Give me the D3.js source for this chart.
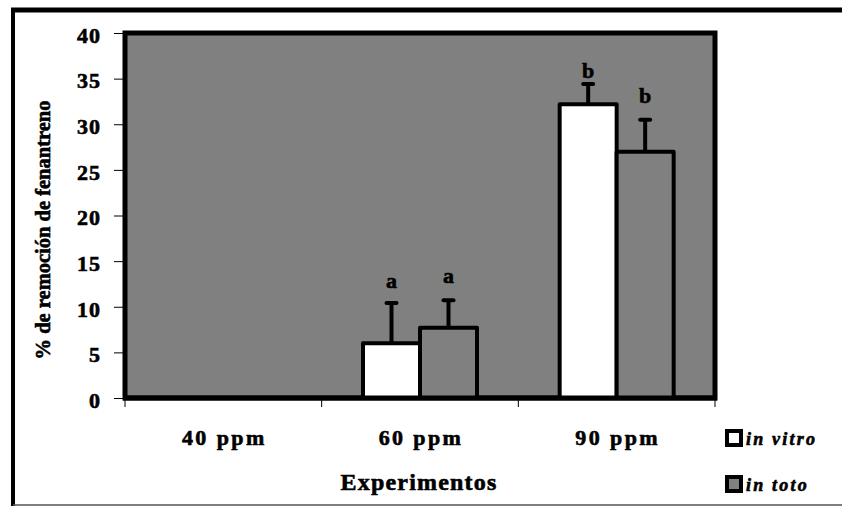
<!DOCTYPE html>
<html><head><meta charset="utf-8">
<script src="https://cdn.jsdelivr.net/npm/d3@7"></script>
<style>
html,body{margin:0;padding:0;background:#fff;}
svg text{stroke:#000;stroke-width:0.6px;}
</style></head>
<body>
<svg id="c" width="842" height="506"></svg>
<script>
const categories = ["40 ppm", "60 ppm", "90 ppm"];
const seriesNames = ["in vitro", "in toto"];
const inVitro = [0, 6.0, 32.2];
const inToto = [0, 7.7, 27.0];
const inVitroErr = [0, 4.4, 2.2];
const inTotoErr = [0, 3.0, 3.5];
const inVitroLetters = ["", "a", "b"];
const inTotoLetters = ["", "a", "b"];
const inVitroLetterAt = [0, 12.05, 35.07];
const inTotoLetterAt = [0, 12.6, 32.3];
const yTicks = [0, 5, 10, 15, 20, 25, 30, 35, 40];
const colors = ["#ffffff", "#808080"];

const FONT = "Liberation Serif";
const svg = d3.select("#c");
const plot = {left: 125, right: 715, top: 33, bottom: 398};

// outer frame
svg.append("line").attr("x1", 11).attr("x2", 842).attr("y1", 10).attr("y2", 10).attr("stroke", "#000").attr("stroke-width", 5);
svg.append("line").attr("x1", 13).attr("x2", 13).attr("y1", 8).attr("y2", 506).attr("stroke", "#000").attr("stroke-width", 4);
svg.append("line").attr("x1", 13).attr("x2", 842).attr("y1", 505).attr("y2", 505).attr("stroke", "#555").attr("stroke-width", 1.5);

const x = d3.scaleBand().domain(categories).range([plot.left, plot.right]).paddingInner(0).paddingOuter(0);
const y = d3.scaleLinear().domain([0, 40]).range([plot.bottom, plot.top]);
const xs = d3.scaleBand().domain(seriesNames).range([0, 114]);

// background
svg.append("rect").attr("x", plot.left).attr("y", plot.top).attr("width", plot.right - plot.left).attr("height", plot.bottom - plot.top)
  .attr("fill", "#808080").attr("stroke", "#000").attr("stroke-width", 5);

// y axis
const yAxis = d3.axisLeft(y).tickValues(yTicks).tickSize(9).tickPadding(13);
const gy = svg.append("g").attr("transform", `translate(${plot.left - 2},0)`).call(yAxis);
gy.select(".domain").remove();
gy.attr("font-family", FONT).attr("font-size", 22);
gy.selectAll(".tick line").attr("stroke", "#000").attr("stroke-width", 1);
gy.selectAll(".tick text").attr("font-weight", 700).attr("fill", "#000").attr("dy", "0.42em").attr("letter-spacing", "1px");

// x axis ticks and labels
const gx = svg.append("g").attr("transform", `translate(0,${plot.bottom})`);
gx.selectAll("line.tk").data([...categories.map(c => x(c)), plot.right]).enter().append("line")
  .attr("x1", d => d).attr("x2", d => d).attr("y1", 0).attr("y2", 9).attr("stroke", "#000").attr("stroke-width", 1);
gx.selectAll("text.cat").data(categories).enter().append("text")
  .attr("x", d => x(d) + x.bandwidth() / 2 + 1).attr("y", 47)
  .attr("text-anchor", "middle").attr("font-family", FONT).attr("font-weight", 700)
  .attr("font-size", 22).attr("letter-spacing", "2.4px").text(d => d);

const series = [
  {name: seriesNames[0], vals: inVitro, err: inVitroErr, letters: inVitroLetters, letterAt: inVitroLetterAt, color: colors[0]},
  {name: seriesNames[1], vals: inToto, err: inTotoErr, letters: inTotoLetters, letterAt: inTotoLetterAt, color: colors[1]}
];

series.forEach(s => {
  const g = svg.append("g");
  categories.forEach((c, i) => {
    const bx = x(c) + (x.bandwidth() - 114) / 2 + xs(s.name);
    const v = s.vals[i];
    const cx = bx + xs.bandwidth() / 2;
    if (s.err[i] > 0) {
      g.append("line").attr("x1", cx).attr("x2", cx).attr("y1", y(v)).attr("y2", y(v + s.err[i]))
        .attr("stroke", "#000").attr("stroke-width", 4);
      g.append("line").attr("x1", cx - 5).attr("x2", cx + 5).attr("y1", y(v + s.err[i])).attr("y2", y(v + s.err[i]))
        .attr("stroke", "#000").attr("stroke-width", 4).attr("stroke-linecap", "round");
    }
    g.append("rect").attr("x", bx).attr("y", y(v)).attr("width", xs.bandwidth()).attr("height", y(0) - y(v))
      .attr("fill", s.color).attr("stroke", "#000").attr("stroke-width", 4).attr("stroke-linejoin", "round");
    if (s.letters[i]) {
      g.append("text").attr("x", cx).attr("y", y(s.letterAt[i])).attr("text-anchor", "middle")
        .attr("font-family", FONT).attr("font-weight", 700).attr("font-size", 22).text(s.letters[i]);
    }
  });
});

// bottom axis line on top
svg.append("line").attr("x1", plot.left - 2).attr("x2", plot.right + 2).attr("y1", plot.bottom).attr("y2", plot.bottom)
  .attr("stroke", "#000").attr("stroke-width", 5);

// axis titles
svg.append("text").attr("x", 419).attr("y", 490).attr("text-anchor", "middle")
  .attr("font-family", FONT).attr("font-weight", 700).attr("font-size", 24)
  .attr("letter-spacing", "1.2px").text("Experimentos");
svg.append("text").attr("transform", "translate(50,230) rotate(-90)").attr("text-anchor", "middle")
  .attr("font-family", FONT).attr("font-weight", 700).attr("font-size", 20.5)
  .text("% de remoción de fenantreno");

// legend
const lg = svg.append("g");
series.forEach((s, i) => {
  const ly = 431 + i * 46;
  lg.append("rect").attr("x", 727).attr("y", ly).attr("width", 14).attr("height", 14)
    .attr("fill", s.color).attr("stroke", "#000").attr("stroke-width", 4);
  lg.append("text").attr("x", 746).attr("y", ly + 14).attr("font-family", FONT).attr("font-weight", 700)
    .attr("font-size", 18).attr("font-style", "italic")
    .attr("letter-spacing", "2.2px").text(s.name);
});
</script>
</body></html>
